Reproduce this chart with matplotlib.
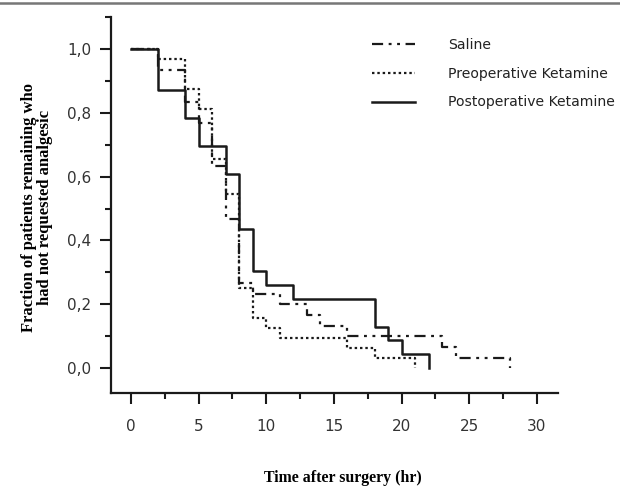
import matplotlib
matplotlib.use("Agg")
import matplotlib.pyplot as plt
from matplotlib.ticker import MultipleLocator, FuncFormatter
from matplotlib.lines import Line2D

# Data (Kaplan-Meier style step curves)
saline_t = [0, 2, 4, 5, 6, 7, 8, 9, 11, 13, 14, 16, 23, 24, 28]
saline_y = [1.0, 0.933, 0.833, 0.767, 0.633, 0.467, 0.267, 0.233, 0.2, 0.167, 0.133, 0.1, 0.067, 0.033, 0.0]

preop_t = [0, 2, 4, 5, 6, 7, 8, 9, 10, 11, 16, 18, 21]
preop_y = [1.0, 0.969, 0.875, 0.813, 0.656, 0.547, 0.25, 0.156, 0.125, 0.094, 0.063, 0.031, 0.0]

postop_t = [0, 2, 4, 5, 7, 8, 9, 10, 12, 18, 19, 20, 22]
postop_y = [1.0, 0.870, 0.783, 0.696, 0.609, 0.435, 0.304, 0.261, 0.217, 0.130, 0.087, 0.043, 0.0]

labels = ["Saline", "Preoperative Ketamine", "Postoperative Ketamine"]
x_ticks = [0, 5, 10, 15, 20, 25, 30]
y_ticks = [0.0, 0.2, 0.4, 0.6, 0.8, 1.0]

fig = plt.figure(figsize=(6.2, 4.86), dpi=100)
ax = fig.add_axes([111/620, 1-393/486, (558-111)/620, (393-17)/486])

col = "#1a1a1a"
ax.step(saline_t, saline_y, where="post", color=col, lw=1.6,
        dashes=(5, 2.5, 1.3, 2.5, 1.3, 2.5), label=labels[0])
ax.step(preop_t, preop_y, where="post", color=col, lw=1.6,
        dashes=(1.1, 1.3), label=labels[1])
ax.step(postop_t, postop_y, where="post", color=col, lw=1.8,
        label=labels[2])

ax.set_xlim(-1.48, 31.56)
ax.set_ylim(-0.078, 1.100)

for s in ["top", "right"]:
    ax.spines[s].set_visible(False)
for s in ["left", "bottom"]:
    ax.spines[s].set_linewidth(1.6)
    ax.spines[s].set_color(col)

ax.set_xticks(x_ticks)
ax.set_yticks(y_ticks)
ax.xaxis.set_minor_locator(MultipleLocator(2.5))
ax.yaxis.set_minor_locator(MultipleLocator(0.1))
ax.yaxis.set_major_formatter(FuncFormatter(lambda v, p: f"{v:.1f}".replace(".", ",")))
ax.tick_params(axis="both", which="major", length=8, width=1.5, color=col,
               labelsize=11, labelcolor="#333333", pad=6)
ax.tick_params(axis="both", which="minor", length=4, width=1.5, color=col)
ax.tick_params(axis="x", which="major", pad=11)

leg = ax.legend(loc="upper left", bbox_to_anchor=(372/620, 1-38/486),
                bbox_transform=fig.transFigure, frameon=False,
                fontsize=10.1, handlelength=3.1, handletextpad=2.3,
                labelspacing=1.05, borderpad=0, borderaxespad=0)
for t in leg.get_texts():
    t.set_color("#222222")

fig.text(37/620, 1-207/486,
         "Fraction of patients remaining who\nhad not requested analgesic",
         rotation=90, ha="center", va="center", family="Liberation Serif",
         fontweight="bold", fontsize=12, linespacing=0.95)
fig.text(343/620, 1-478/486, "Time after surgery (hr)", ha="center",
         va="center", family="Liberation Serif", fontweight="bold", fontsize=11.4)

fig.add_artist(Line2D([0, 1], [1-3/486, 1-3/486], transform=fig.transFigure,
                      color="#777777", lw=1.8))

fig.savefig("out.png", dpi=100)
